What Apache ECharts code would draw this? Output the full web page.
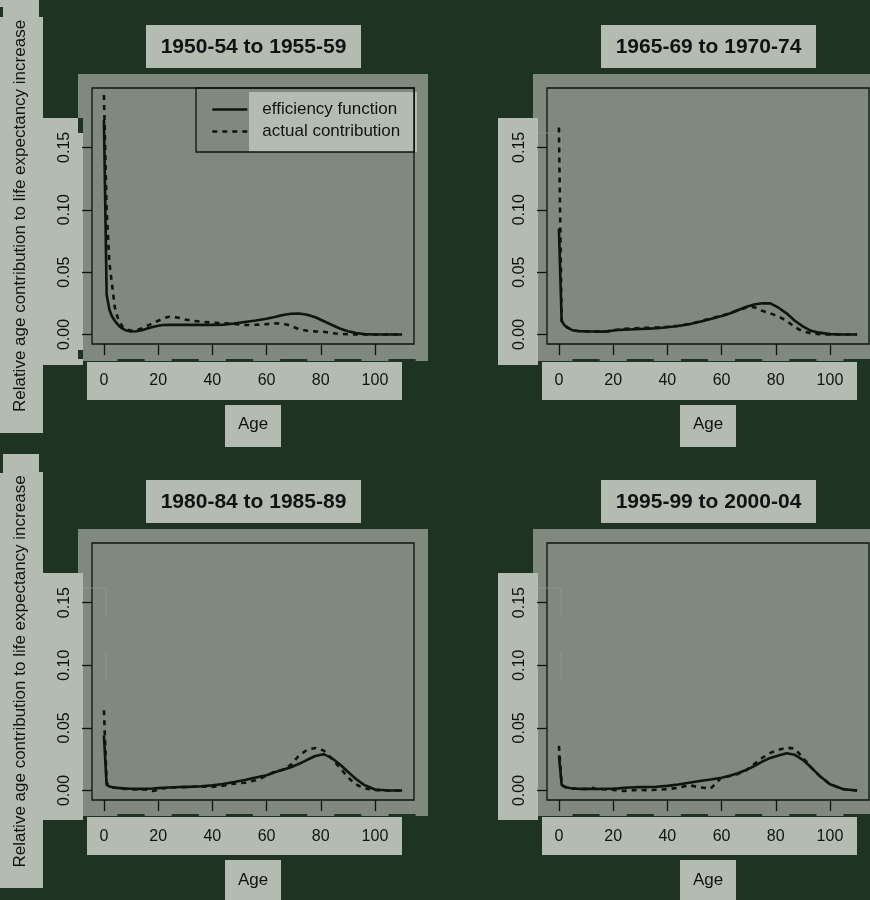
<!DOCTYPE html>
<html>
<head>
<meta charset="utf-8">
<script src="https://cdn.jsdelivr.net/npm/echarts@6/dist/echarts.min.js"></script>
<style>
  html, body { margin: 0; padding: 0; background: #1e3320; }
  #chart { width: 870px; height: 900px; }
</style>
</head>
<body>
<div id="chart"></div>
<script>
// Ages at which the contribution curves are sampled
const ages = [0, 1, 2, 3, 4, 5, 6, 7, 8, 10, 12, 14, 16, 18, 20, 22, 24, 26, 28, 30, 33, 36, 40, 44, 48,
  52, 56, 60, 63, 66, 69, 72, 75, 78, 81, 84, 87, 90, 93, 96, 100, 105, 110];

// 1950-54 to 1955-59
const eff5055 = [0.172, 0.032, 0.020, 0.0145, 0.011, 0.0083, 0.006, 0.0045, 0.0035, 0.0024, 0.0026, 0.0035, 0.0048, 0.006, 0.007, 0.0076, 0.0077, 0.0077, 0.0077, 0.0077, 0.0077, 0.0077, 0.0077, 0.0078, 0.0088,
  0.0100, 0.0112, 0.0126, 0.014, 0.0157, 0.0166, 0.0168, 0.0158, 0.0138, 0.0108, 0.0078, 0.0048, 0.0027, 0.0012, 0.0003, 0, 0, 0];
const act5055 = [0.192, 0.100, 0.058, 0.040, 0.022, 0.014, 0.009, 0.006, 0.0045, 0.003, 0.0035, 0.005, 0.007, 0.009, 0.011, 0.013, 0.0143, 0.014, 0.0133, 0.012, 0.011, 0.0103, 0.0095, 0.009, 0.0085,
  0.0076, 0.0078, 0.0083, 0.009, 0.0088, 0.007, 0.0042, 0.003, 0.0025, 0.0022, 0.0012, 0.0005, 0.0002, 0, 0, 0, 0, 0];

// 1965-69 to 1970-74
const eff6570 = [0.085, 0.011, 0.0075, 0.0055, 0.0045, 0.0035, 0.003, 0.0028, 0.0026, 0.0025, 0.0024, 0.0024, 0.0023, 0.0025, 0.0032, 0.0036, 0.0039, 0.004, 0.0042, 0.0044, 0.0047, 0.005, 0.0058, 0.0068, 0.0083,
  0.0102, 0.0125, 0.0148, 0.0168, 0.0195, 0.022, 0.024, 0.025, 0.025, 0.0215, 0.017, 0.011, 0.0065, 0.003, 0.0015, 0.0003, 0, 0];
const act6570 = [0.166, 0.011, 0.008, 0.006, 0.0048, 0.0038, 0.0032, 0.0028, 0.0026, 0.0026, 0.0025, 0.0025, 0.0024, 0.0027, 0.0035, 0.004, 0.0045, 0.0048, 0.005, 0.0052, 0.0054, 0.0056, 0.0062, 0.007, 0.0085,
  0.0105, 0.013, 0.015, 0.017, 0.0195, 0.0215, 0.022, 0.019, 0.017, 0.0145, 0.011, 0.006, 0.0025, 0.001, 0.0003, 0, 0, 0];

// 1980-84 to 1985-89
const eff8085 = [0.044, 0.0045, 0.0032, 0.0027, 0.0024, 0.0021, 0.0019, 0.0017, 0.0016, 0.0014, 0.0013, 0.0013, 0.0014, 0.0016, 0.0019, 0.0022, 0.0024, 0.0026, 0.0028, 0.0029, 0.0031, 0.0034, 0.0041, 0.0052, 0.0067,
  0.0083, 0.0103, 0.0122, 0.0145, 0.0165, 0.0185, 0.0213, 0.0245, 0.0275, 0.029, 0.026, 0.021, 0.015, 0.0092, 0.0045, 0.0008, 0, 0];
const act8085 = [0.064, 0.006, 0.0035, 0.0025, 0.0022, 0.002, 0.0018, 0.0015, 0.0012, 0.001, 0.0008, 0.0009, 0.0006, -0.0004, 0.0004, 0.0018, 0.0022, 0.0024, 0.0026, 0.0028, 0.003, 0.0032, 0.0028, 0.0038, 0.0055,
  0.0062, 0.0082, 0.0118, 0.015, 0.0165, 0.0205, 0.028, 0.0325, 0.034, 0.032, 0.0255, 0.0185, 0.0105, 0.0048, 0.0018, 0.0003, 0, 0];

// 1995-99 to 2000-04
const eff9500 = [0.028, 0.0045, 0.003, 0.0024, 0.002, 0.0017, 0.0015, 0.0014, 0.0013, 0.0013, 0.0013, 0.0012, 0.0013, 0.0014, 0.0015, 0.0017, 0.0021, 0.0024, 0.0026, 0.0027, 0.0028, 0.003, 0.0037, 0.0048, 0.0062,
  0.0075, 0.0088, 0.0102, 0.0118, 0.0138, 0.0163, 0.0195, 0.023, 0.026, 0.028, 0.0298, 0.0285, 0.0245, 0.0185, 0.012, 0.005, 0.001, 0];
const act9500 = [0.0356, 0.005, 0.003, 0.0025, 0.002, 0.0017, 0.0015, 0.0013, 0.0011, 0.0012, 0.0022, 0.0012, 0.001, 0.0008, 0.0005, 0.0001, -0.0004, 0.0002, 0.0003, 0.0004, 0.0003, 0.0006, 0.001, 0.0022, 0.0042,
  0.0025, 0.0015, 0.0105, 0.0115, 0.0132, 0.016, 0.021, 0.026, 0.030, 0.0325, 0.0342, 0.0335, 0.0262, 0.0185, 0.012, 0.005, 0.001, 0];

const periods = ['1950-54 to 1955-59', '1965-69 to 1970-74', '1980-84 to 1985-89', '1995-99 to 2000-04'];
const seriesNames = ['efficiency function', 'actual contribution'];
const xTicks = [0, 20, 40, 60, 80, 100];
const yTicks = [0, 0.05, 0.10, 0.15];
const xTitle = 'Age';
const yTitle = 'Relative age contribution to life expectancy increase';

const effSets = [eff5055, eff6570, eff8085, eff9500];
const actSets = [act5055, act6570, act8085, act9500];

// ---- styling / layout ----
const FONT = '"Liberation Sans", Arial, Helvetica, sans-serif';
const INK = '#0c160d';
const TEXT = '#121212';
const PANEL = '#7f897d';
const BOX = '#b4bcb2';
const DARK = '#1e3320';
const offsets = [[0, 0], [455, 0], [0, 455], [455, 455]];
// R-style axis ranges: data range widened by 4% on each side
const X_MIN = -4.4, X_MAX = 114.4;
const Y_MIN = -0.0076, Y_MAX = 0.1976;

const chart = echarts.init(document.getElementById('chart'), null, { renderer: 'canvas' });

const grids = offsets.map(([ox, oy], i) => ({
  left: 92 + ox, top: 88 + oy, width: 322, height: i < 2 ? 256 : 257,
  show: true, borderColor: INK, borderWidth: 1.3, backgroundColor: 'transparent',
  containLabel: false, outerBoundsMode: 'none'
}));

const tickText = { fontSize: 16, color: TEXT, fontFamily: FONT };

const xAxes = offsets.map((o, i) => ({
  gridIndex: i, type: 'value', min: X_MIN, max: X_MAX,
  axisLine: { show: false, onZero: false },
  splitLine: { show: false },
  axisTick: { show: true, length: 11, customValues: xTicks, lineStyle: { color: INK, width: 1.3 } },
  axisLabel: Object.assign({ customValues: xTicks, margin: 29 }, tickText),
  name: xTitle, nameLocation: 'middle', nameGap: 72,
  nameTextStyle: { fontSize: 17, color: TEXT, fontFamily: FONT }
}));

const yAxes = offsets.map(([ox], i) => ({
  gridIndex: i, type: 'value', min: Y_MIN, max: Y_MAX,
  axisLine: { show: false, onZero: false },
  splitLine: { show: false },
  axisTick: { show: true, length: 10, customValues: yTicks, lineStyle: { color: INK, width: 1.3 } },
  axisLabel: Object.assign({ customValues: yTicks, rotate: 90, margin: 19, formatter: v => v.toFixed(2) }, tickText),
  name: ox === 0 ? yTitle : '', nameLocation: 'middle', nameRotate: 90, nameGap: 63,
  nameTextStyle: { fontSize: 17, color: TEXT, fontFamily: FONT }
}));

const series = [];
offsets.forEach((o, i) => {
  series.push({
    type: 'line', name: seriesNames[0], xAxisIndex: i, yAxisIndex: i,
    data: ages.map((a, k) => [a, effSets[i][k]]),
    symbol: 'none', silent: true, z: 3,
    lineStyle: { color: INK, width: 2.6, type: 'solid' }, itemStyle: { color: INK }
  });
  series.push({
    type: 'line', name: seriesNames[1], xAxisIndex: i, yAxisIndex: i,
    data: ages.map((a, k) => [a, actSets[i][k]]),
    symbol: 'none', silent: true, z: 4,
    lineStyle: { color: INK, width: 2.6, type: [5, 5] }, itemStyle: { color: INK }
  });
});

chart.setOption({
  backgroundColor: DARK,
  animation: false,
  grid: grids,
  xAxis: xAxes,
  yAxis: yAxes,
  legend: {
    data: seriesNames, orient: 'vertical', left: 196, top: 88,
    padding: [13, 14, 12, 15], itemGap: 5, itemWidth: 35, itemHeight: 14,
    borderColor: INK, borderWidth: 1.3, selectedMode: false,
    itemStyle: { opacity: 0, borderWidth: 0 },
    lineStyle: { width: 2.6 },
    textStyle: { fontSize: 17, color: TEXT, fontFamily: FONT, padding: [0, 0, 0, 10] }
  },
  series: series
});

// ---- background panels and label boxes ----
const g = [];
const rect = (x, y, w, h, fill, z) => g.push({ type: 'rect', shape: { x, y, width: w, height: h }, style: { fill }, z: z, silent: true });
const fline = (x1, y1, x2, y2) => g.push({ type: 'line', shape: { x1, y1, x2, y2 }, style: { stroke: '#94a092', lineWidth: 1, opacity: 0.7 }, z: 1, silent: true });

offsets.forEach(([ox, oy], i) => {
  rect(78 + ox, 74 + oy, 350, 287, PANEL, -10);           // plot region backdrop
  rect(87 + ox, 362 + oy, 315, 38, BOX, -6);              // x tick label box
  rect(225 + ox, 405 + oy, 56, 42, BOX, -6);              // x title box
  rect(146 + ox, 25 + oy, 215, 43, BOX, -6);              // panel title box
  rect(43 + ox, 118 + oy, 40, 247, BOX, -6);              // y tick label box
  g.push({
    type: 'text', x: 253.5 + ox, y: 47 + oy, z: 5, silent: true,
    style: { text: periods[i], font: 'bold 21px ' + FONT, fill: TEXT, align: 'center', verticalAlign: 'middle' }
  });
  // dashed strip along the lower edge of the plot backdrop
  [10, 30, 50, 70, 90, 110].forEach(a => {
    const x1 = chart.convertToPixel({ xAxisIndex: i }, a - 5);
    const x2 = Math.min(chart.convertToPixel({ xAxisIndex: i }, a + 5), 428 + ox);
    rect(x1, 359 + oy, x2 - x1, 2, DARK, -7);
  });
});

// y title boxes (left column)
rect(0, 0, 39, 17, BOX, -6);
rect(0, 17, 43, 416, BOX, -6);
rect(0, 7, 3, 10, DARK, -5);
rect(3, 454, 36, 19, BOX, -6);
rect(0, 472, 43, 416, BOX, -6);
rect(0, 465, 3, 8, DARK, -5);
// notches at the corners of the first y tick box
rect(78, 118, 5, 15, DARK, -5);
rect(78, 350, 5, 9, DARK, -5);

// legend text backing
rect(249, 92, 168, 60, BOX, -4);

// faint guide traces
fline(539, 133, 561, 133); fline(561, 133, 561, 228);
fline(83, 588, 106, 588); fline(106, 588, 106, 617); fline(106, 652, 106, 680);
fline(538, 588, 561, 588); fline(561, 588, 561, 617); fline(561, 652, 561, 680);

chart.setOption({ graphic: { elements: g } });
</script>
</body>
</html>
